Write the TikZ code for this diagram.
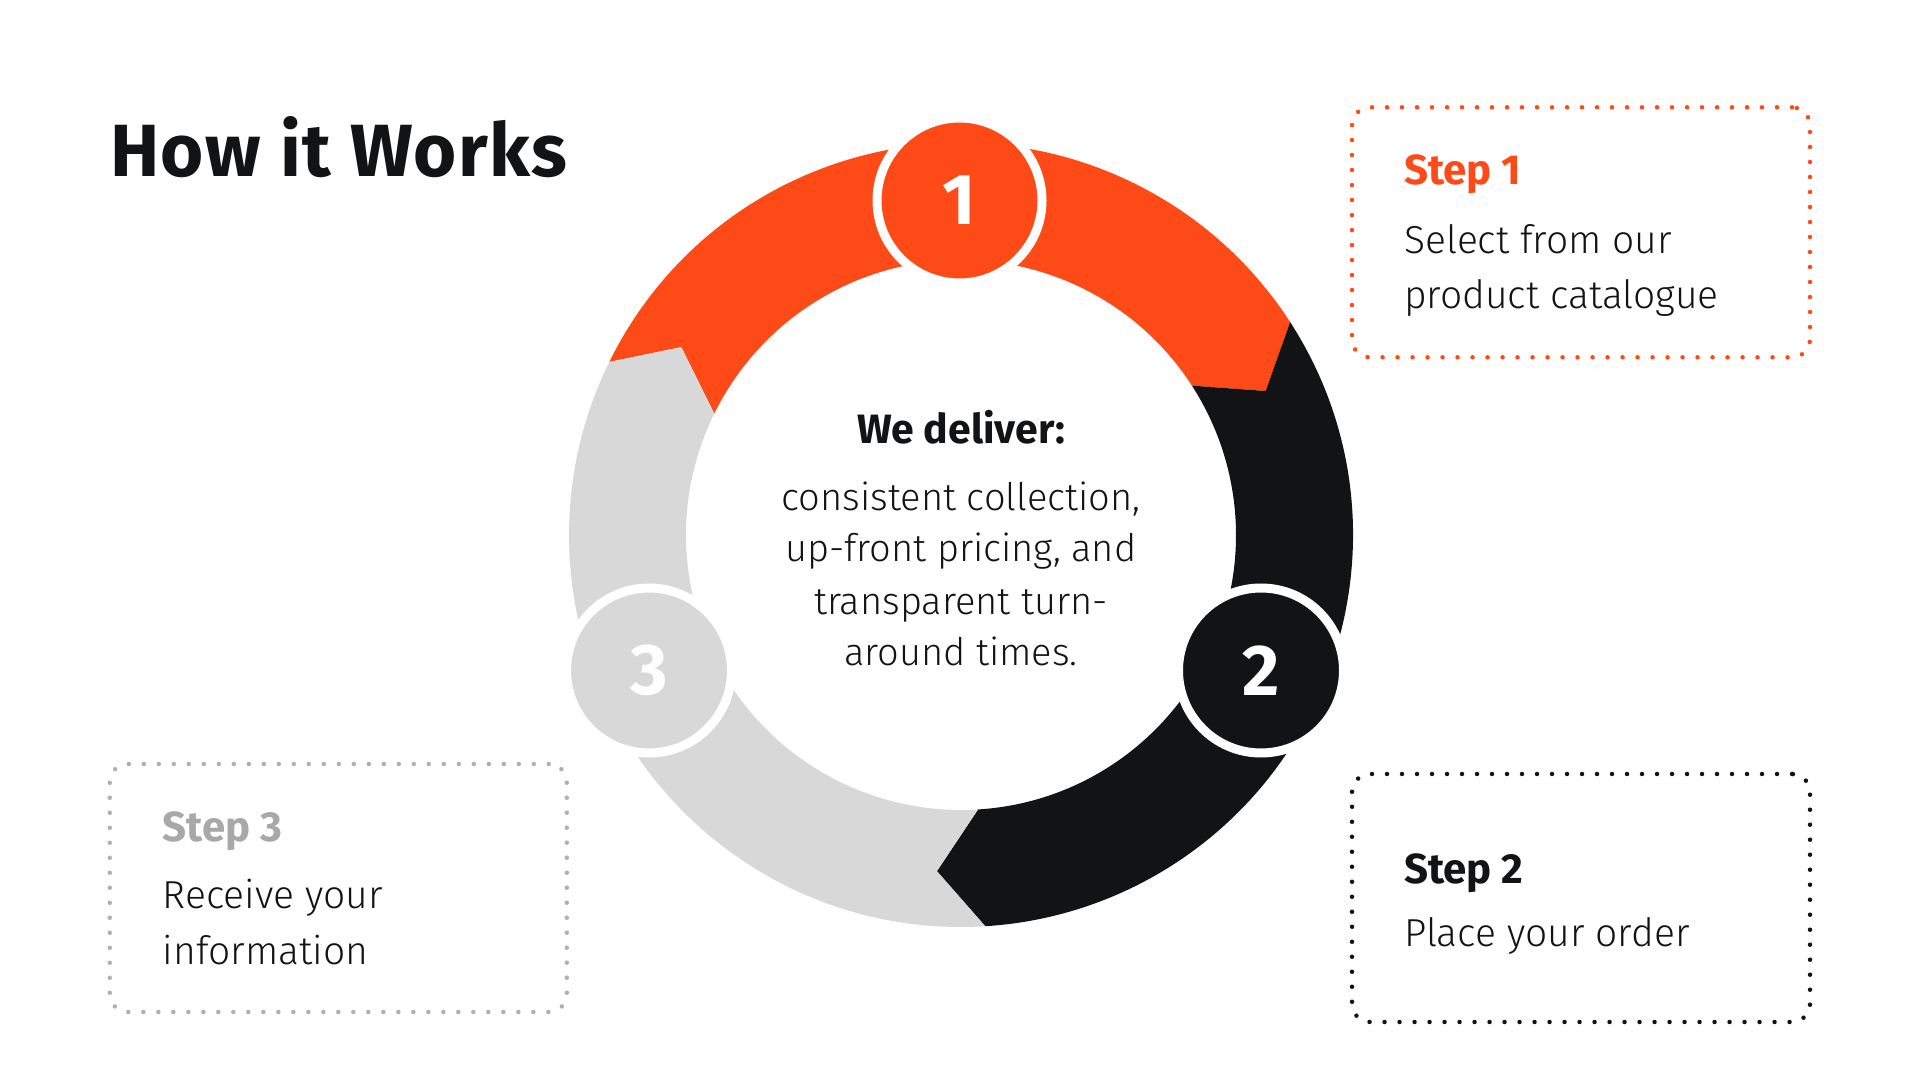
\documentclass[tikz,border=0pt]{standalone}
\usepackage{fontspec}
\setmainfont{Fira Sans}[UprightFont={* Light}, BoldFont={* Bold}]
\newfontfamily\titlefont{Fira Sans}[UprightFont={* Bold}, LetterSpace=2]
\definecolor{oran}{HTML}{FE4A17}
\definecolor{blk}{HTML}{121315}
\definecolor{lgray}{HTML}{D8D8D8}
\definecolor{mgray}{HTML}{A8A8A8}
\definecolor{dgray}{HTML}{B0B0B0}
\tikzset{
  numcirc/.style={circle, minimum size=165pt, inner sep=0pt, draw=white, line width=9pt,
    text=white, font=\fontsize{72}{72}\selectfont\bfseries},
  stepbox/.style={rectangle, rounded corners=18pt, line width=4.5pt, line cap=round,
    dash pattern=on 0pt off 15pt, inner sep=0pt},
  stephead/.style={anchor=base west, inner sep=0pt, font=\fontsize{42}{42}\selectfont\bfseries},
  stepbody/.style={anchor=base west, inner sep=0pt, text=blk, font=\fontsize{39}{39}\selectfont},
  midbody/.style={anchor=base, inner sep=0pt, text=blk, font=\fontsize{38}{38}\selectfont},
}
\begin{document}
\begin{tikzpicture}[x=1pt,y=1pt]
\useasboundingbox (0,0) rectangle (1920,1080);
\fill[white] (0,0) rectangle (1920,1080);

% title
\node[anchor=base west, inner sep=0pt, text=blk, font=\fontsize{74}{74}\titlefont] (title) at (110,903) {How it Works};

% ring
\begin{scope}[shift={(961,545)}]
\fill[oran] (153.8:392) arc[start angle=153.8, end angle=32.9, radius=392pt] -- (25.3:337) -- (32.9:275)
  arc[start angle=32.9, end angle=153.8, radius=275pt] -- (146.1:337) -- cycle;
\fill[blk] (32.9:392) arc[start angle=32.9, end angle=-86.45, radius=392pt] -- (-94.1:337) -- (-86.45:275)
  arc[start angle=-86.45, end angle=32.9, radius=275pt] -- (25.3:337) -- cycle;
\fill[lgray] (-86.45:392) arc[start angle=-86.45, end angle=-206.2, radius=392pt] -- (-213.9:337) -- (-206.2:275)
  arc[start angle=-206.2, end angle=-86.45, radius=275pt] -- (-94.1:337) -- cycle;
\end{scope}

% number circles
\node[numcirc, fill=oran] (n1) at (959.5,879.5) {1};
\node[numcirc, fill=blk] (n2) at (1261,409.5) {2};
\node[numcirc, fill=lgray] (n3) at (649,409.5) {3};

% centre text
\node[anchor=base, inner sep=0pt, text=blk, font=\fontsize{41}{41}\selectfont\bfseries] (d0) at (961,636.7) {We deliver:};
\node[midbody] (d1) at (961,569.4) {consistent collection,};
\node[midbody] (d2) at (961,518) {up-front pricing, and};
\node[midbody] (d3) at (961,465.3) {transparent turn-};
\node[midbody] (d4) at (961,414) {around times.};

% step boxes
\node[stepbox, draw=oran, minimum width=458pt, minimum height=250pt] (b1) at (1581,847.7) {};
\node[stepbox, draw=blk, minimum width=458pt, minimum height=248pt] (b2) at (1581,182) {};
\node[stepbox, draw=dgray, minimum width=457pt, minimum height=248pt] (b3) at (338.3,192) {};

\node[stephead, text=oran] (s1h) at (1404,895) {Step 1};
\node[stepbody] (s1a) at (1404,826.7) {Select from our};
\node[stepbody] (s1b) at (1404,771.7) {product catalogue};

\node[stephead, text=blk] (s2h) at (1404,197) {Step 2};
\node[stepbody] (s2a) at (1404,134) {Place your order};

\node[stephead, text=mgray] (s3h) at (162.7,238.5) {Step 3};
\node[stepbody] (s3a) at (162.7,172) {Receive your};
\node[stepbody] (s3b) at (162.7,116) {information};
\end{tikzpicture}
\end{document}
